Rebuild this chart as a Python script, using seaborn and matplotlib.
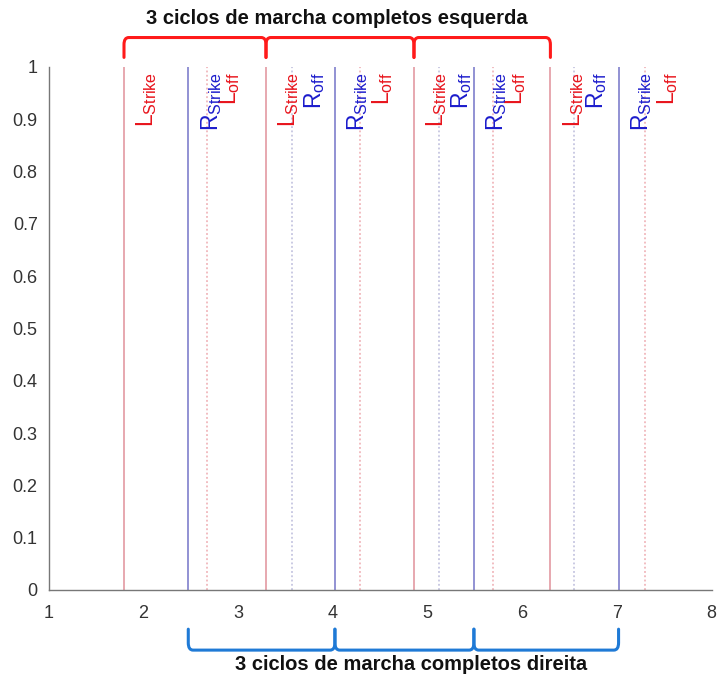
import numpy as np
import pandas as pd
import matplotlib
matplotlib.use("Agg")
import matplotlib.pyplot as plt
import seaborn as sns
from matplotlib.path import Path
from matplotlib.patches import PathPatch

# ---- data (gait events along the x axis) ----
l_strike = [1.794, 3.294, 4.857, 6.298]
r_strike = [2.473, 4.022, 5.490, 7.018]
l_off = [2.667, 4.286, 5.687, 7.296]
r_off = [3.568, 5.120, 6.546]

x_ticks = [1, 2, 3, 4, 5, 6, 7, 8]
y_ticks = [0, 0.1, 0.2, 0.3, 0.4, 0.5, 0.6, 0.7, 0.8, 0.9, 1]
y_tick_labels = ["0", "0.1", "0.2", "0.3", "0.4", "0.5", "0.6", "0.7", "0.8", "0.9", "1"]

title_left = "3 ciclos de marcha completos esquerda"
title_right = "3 ciclos de marcha completos direita"

sns.set_theme(style="white")
plt.rcParams["font.family"] = ["Liberation Sans", "DejaVu Sans"]
plt.rcParams["mathtext.fontset"] = "custom"
plt.rcParams["mathtext.rm"] = "Liberation Sans"
plt.rcParams["mathtext.it"] = "Liberation Sans"
plt.rcParams["mathtext.bf"] = "Liberation Sans:bold"

events = pd.DataFrame(
    [(x, "L_strike") for x in l_strike]
    + [(x, "R_strike") for x in r_strike]
    + [(x, "L_off") for x in l_off]
    + [(x, "R_off") for x in r_off],
    columns=["x", "event"],
)

styles = {
    "L_strike": dict(color="#cc4455", ls="-", alpha=0.5, lw=1.3,
                     label=r"$\mathregular{L_{Strike}}$", tcolor="#e8141c"),
    "R_strike": dict(color="#3c3cb0", ls="-", alpha=0.6, lw=1.3,
                     label=r"$\mathregular{R_{Strike}}$", tcolor="#1c1ccc"),
    "L_off": dict(color="#d9434f", ls=(0, (1.2, 1.6)), alpha=0.45, lw=1.1,
                  label=r"$\mathregular{L_{off}}$", tcolor="#e8141c"),
    "R_off": dict(color="#6a6ab0", ls=(0, (1.2, 1.6)), alpha=0.45, lw=1.1,
                  label=r"$\mathregular{R_{off}}$", tcolor="#1c1ccc"),
}

fig = plt.figure(figsize=(7.18, 6.75), dpi=100)
ax = fig.add_axes([0.068, 0.126, 0.923, 0.775])

for ev, grp in events.groupby("event"):
    st = styles[ev]
    ax.vlines(grp["x"], 0, 1, colors=st["color"], linestyles=st["ls"],
              alpha=st["alpha"], linewidth=st["lw"])
    for x in grp["x"]:
        ax.text(x + 0.11, 0.99, st["label"], rotation=90, ha="left", va="top",
                fontsize=16.5, color=st["tcolor"])

ax.set_xlim(1, 8)
ax.set_ylim(0, 1)
ax.set_xticks(x_ticks)
ax.set_xticklabels([str(t) for t in x_ticks])
ax.set_yticks(y_ticks)
ax.set_yticklabels(y_tick_labels)
ax.tick_params(direction="in", length=3.5, width=1, colors="#555555",
               labelcolor="#333333", labelsize=13)
ax.tick_params(axis="x", pad=11)
ax.tick_params(axis="y", pad=8)
sns.despine(ax=ax)
for s in ["left", "bottom"]:
    ax.spines[s].set_color("#777777")
    ax.spines[s].set_linewidth(1.0)
ax.grid(False)

trans = ax.get_xaxis_transform()


def draw_brackets(xs, y_end, y_bar, color):
    r = (y_bar - y_end) * 0.35
    for a, b in zip(xs[:-1], xs[1:]):
        dx = 0.05
        verts = [(a, y_end), (a, y_bar - r), (a, y_bar), (a + dx, y_bar),
                 (b - dx, y_bar), (b, y_bar), (b, y_bar - r), (b, y_end)]
        codes = [Path.MOVETO, Path.LINETO, Path.CURVE3, Path.CURVE3,
                 Path.LINETO, Path.CURVE3, Path.CURVE3, Path.LINETO]
        patch = PathPatch(Path(verts, codes), transform=trans, fill=False,
                          edgecolor=color, linewidth=2.2, clip_on=False,
                          capstyle="round", joinstyle="round")
        ax.add_patch(patch)


draw_brackets(l_strike, 1.018, 1.056, "#ff1a1a")
draw_brackets(r_strike, -0.075, -0.115, "#1f7ad6")

fig.text(ax.transData.transform(((l_strike[0] + l_strike[-1]) / 2, 0))[0] / fig.bbox.width,
         0.973, title_left, ha="center", va="center", fontsize=14.5,
         fontweight="bold", color="#111111")
fig.text(ax.transData.transform(((r_strike[0] + r_strike[-1]) / 2 + 0.08, 0))[0] / fig.bbox.width,
         0.0155, title_right, ha="center", va="center", fontsize=14.5,
         fontweight="bold", color="#111111")

fig.savefig("out.png", dpi=100)
